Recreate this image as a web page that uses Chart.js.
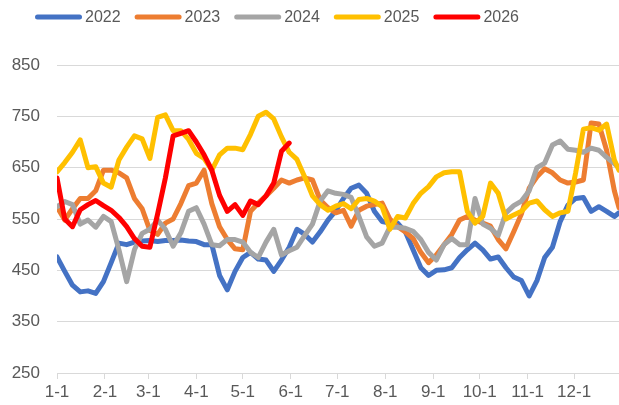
<!DOCTYPE html>
<html lang="en">
<head>
<meta charset="UTF-8">
<title>Seasonal Chart</title>
<script src="https://cdn.jsdelivr.net/npm/chart.js"></script>
<style>
  html, body { margin: 0; padding: 0; background: #fff; }
</style>
</head>
<body>
<canvas id="myChart" width="619" height="405"></canvas>
<script>
// day of year for each sample (1-1 = day 0)
const days = [0, 5, 10, 15, 20, 25, 30, 35, 40, 45,
  50, 55, 60, 65, 70, 75, 80, 85, 90, 95,
  100, 105, 110, 115, 120, 125, 130, 135, 140, 145,
  150, 155, 160, 165, 170, 175, 180, 185, 190, 195,
  200, 205, 210, 215, 220, 225, 230, 235, 240, 245,
  250, 255, 260, 265, 270, 275, 280, 285, 290, 295,
  300, 305, 310, 315, 320, 325, 330, 335, 340, 345,
  350, 355, 360, 363];

const monthStarts = [0, 31, 59, 90, 120, 151, 181, 212, 243, 273, 304, 334];
const monthLabels = ['1-1', '2-1', '3-1', '4-1', '5-1', '6-1', '7-1', '8-1', '9-1', '10-1', '11-1', '12-1'];

const yTicks = [250, 350, 450, 550, 650, 750, 850];

const years = ['2022', '2023', '2024', '2025', '2026'];

const v2022 = [476, 448, 421, 408, 410, 405, 428, 465, 503, 500,
  505, 507, 508, 506, 508, 508, 509, 507, 506, 500,
  500, 440, 412, 448, 475, 485, 472, 470, 448, 470,
  495, 530, 520, 505, 525, 548, 566, 590, 610, 616,
  600, 565, 545, 542, 542, 525, 490, 455, 440, 450,
  451, 455, 475, 490, 503, 490, 472, 476, 455, 437,
  430, 400, 430, 475, 495, 545, 577, 590, 592, 565,
  574, 565, 555, 562];

const v2023 = [574, 548, 570, 590, 590, 605, 645, 645, 640, 630,
  590, 570, 528, 520, 542, 550, 580, 615, 620, 645,
  580, 535, 510, 492, 490, 565, 581, 595, 610, 626,
  620, 626, 630, 626, 587, 572, 562, 567, 536, 567,
  575, 578, 581, 550, 535, 525, 512, 485, 465, 480,
  500, 520, 548, 555, 548, 542, 536, 510, 492, 525,
  560, 610, 632, 648, 640, 626, 620, 622, 626, 737,
  735, 684, 605, 572];

const v2024 = [574, 584, 578, 540, 548, 534, 555, 545, 490, 428,
  490, 522, 530, 548, 530, 497, 523, 565, 572, 540,
  500, 498, 510, 510, 505, 485, 475, 505, 530, 480,
  488, 495, 518, 540, 585, 605, 600, 598, 592, 555,
  515, 497, 503, 534, 534, 532, 526, 510, 485, 470,
  500, 512, 500, 500, 590, 540, 532, 518, 562, 576,
  585, 605, 650, 659, 694, 702, 686, 684, 680, 688,
  684, 670, 658, 650];

const v2025 = [642, 660, 680, 704, 650, 652, 620, 612, 665, 690,
  712, 706, 668, 748, 753, 722, 722, 705, 678, 668,
  645, 675, 688, 688, 685, 715, 750, 758, 745, 710,
  680, 666, 632, 595, 578, 567, 575, 580, 570, 588,
  590, 585, 574, 530, 555, 552, 580, 600, 613, 632,
  640, 642, 642, 565, 542, 555, 620, 600, 550, 558,
  565, 581, 585, 568, 555, 562, 565, 640, 725, 728,
  723, 735, 665, 645];

const v2026 = [630, 550, 535, 568, 578, 586, 576, 567, 553, 535,
  512, 497, 495, 560, 630, 712, 717, 722, 700, 675,
  645, 596, 565, 578, 557, 585, 578, 595, 620, 682,
  698];

const colors = ['#4472C4', '#ED7D31', '#A5A5A5', '#FFC000', '#FF0000'];
const series = [v2022, v2023, v2024, v2025, v2026];

const axisFont = { family: '"Liberation Sans", Arial, sans-serif', size: 17 };

// legend drawn as short round-capped lines across the top
const lineLegend = {
  id: 'lineLegend',
  afterDraw(chart) {
    const c = chart.ctx;
    let x = 35;
    const y = 17;
    c.save();
    c.font = '16px "Liberation Sans", Arial, sans-serif';
    c.textBaseline = 'middle';
    chart.data.datasets.forEach(ds => {
      c.strokeStyle = ds.borderColor;
      c.lineWidth = 5;
      c.lineCap = 'round';
      c.beginPath();
      c.moveTo(x + 2.5, y);
      c.lineTo(x + 44.5, y);
      c.stroke();
      c.fillStyle = '#595959';
      c.fillText(ds.label, x + 50, y + 1);
      x += 50 + c.measureText(ds.label).width + 14;
    });
    c.restore();
  }
};

const ctx = document.getElementById('myChart').getContext('2d');

const myChart = new Chart(ctx, {
  type: 'line',
  data: {
    datasets: years.map((yr, i) => ({
      label: yr,
      data: series[i].map((v, j) => ({ x: days[j], y: v })),
      borderColor: colors[i],
      backgroundColor: colors[i],
      borderWidth: 5,
      borderCapStyle: 'round',
      borderJoinStyle: 'round',
      pointRadius: 0,
      tension: 0,
      fill: false,
      order: years.length - i   // later years on top
    }))
  },
  options: {
    responsive: false,
    animation: false,
    layout: { padding: { top: 65, left: 0, right: 0, bottom: 0 } },
    plugins: {
      legend: { display: false },
      tooltip: { enabled: false }
    },
    scales: {
      x: {
        type: 'linear',
        min: 0,
        max: 363,
        afterBuildTicks: s => { s.ticks = monthStarts.map(v => ({ value: v })); },
        afterFit: s => { s.height = 32; s.paddingLeft = 0; s.paddingRight = 0; },
        ticks: {
          autoSkip: false,
          maxRotation: 0,
          padding: 3,
          color: '#595959',
          font: axisFont,
          callback: v => monthLabels[monthStarts.indexOf(v)]
        },
        grid: { drawOnChartArea: false, drawTicks: true, tickLength: 6, color: '#D9D9D9' },
        border: { color: '#D9D9D9' }
      },
      y: {
        min: 250,
        max: 850,
        afterBuildTicks: s => { s.ticks = yTicks.map(v => ({ value: v })); },
        afterFit: s => { s.width = 57; s.paddingTop = 0; s.paddingBottom = 0; },
        ticks: { padding: 17, color: '#595959', font: axisFont },
        grid: { color: '#D9D9D9', lineWidth: 1, drawTicks: false },
        border: { display: false }
      }
    }
  },
  plugins: [lineLegend]
});
</script>
</body>
</html>
